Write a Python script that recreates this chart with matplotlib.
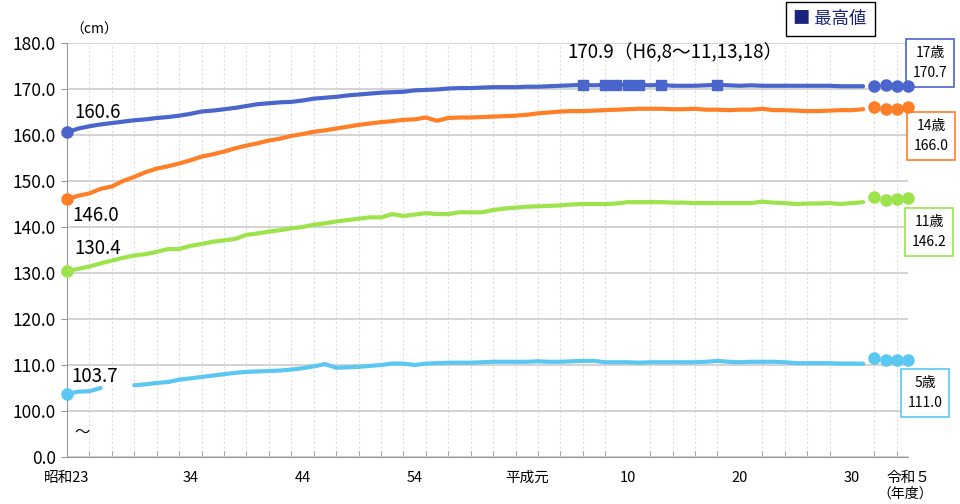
import matplotlib
matplotlib.use('Agg')
import matplotlib.pyplot as plt
import numpy as np

plt.rcParams['font.family'] = ['Noto Sans CJK JP', 'DejaVu Sans']

years = np.arange(1948, 2020)
years_r = np.arange(2020, 2024)

age17 = [160.6, 161.4, 161.9, 162.3, 162.6, 162.9, 163.2, 163.4, 163.7, 163.9,
         164.2, 164.6, 165.1, 165.3, 165.6, 165.9, 166.3, 166.7, 166.9, 167.1,
         167.2, 167.5, 167.9, 168.1, 168.3, 168.6, 168.8, 169.0, 169.2, 169.3,
         169.4, 169.7, 169.8, 169.9, 170.1, 170.2, 170.2, 170.3, 170.4, 170.4,
         170.4, 170.5, 170.5, 170.6, 170.7, 170.8, 170.9, 170.8, 170.9, 170.9,
         170.9, 170.9, 170.8, 170.9, 170.7, 170.7, 170.7, 170.8, 170.9, 170.8,
         170.7, 170.8, 170.7, 170.7, 170.7, 170.7, 170.7, 170.7, 170.7, 170.6,
         170.6, 170.6]
age14 = [146.0, 146.8, 147.3, 148.3, 148.8, 150.0, 150.9, 151.9, 152.7, 153.2,
         153.8, 154.5, 155.3, 155.8, 156.4, 157.1, 157.7, 158.2, 158.8, 159.2,
         159.8, 160.2, 160.7, 161.0, 161.4, 161.8, 162.2, 162.5, 162.8, 163.0,
         163.3, 163.4, 163.8, 163.1, 163.7, 163.8, 163.8, 163.9, 164.0, 164.1,
         164.2, 164.4, 164.7, 164.9, 165.1, 165.2, 165.2, 165.3, 165.4, 165.5,
         165.6, 165.7, 165.7, 165.7, 165.6, 165.6, 165.7, 165.5, 165.5, 165.4,
         165.5, 165.5, 165.7, 165.4, 165.4, 165.3, 165.2, 165.2, 165.3, 165.4,
         165.4, 165.6]
age11 = [130.4, 130.9, 131.4, 132.1, 132.7, 133.3, 133.8, 134.1, 134.6, 135.2,
         135.2, 135.9, 136.3, 136.8, 137.1, 137.4, 138.3, 138.6, 139.0, 139.3,
         139.7, 140.0, 140.5, 140.8, 141.2, 141.5, 141.8, 142.1, 142.1, 142.8,
         142.4, 142.7, 143.0, 142.8, 142.8, 143.2, 143.2, 143.2, 143.7, 144.0,
         144.2, 144.4, 144.5, 144.6, 144.7, 144.9, 145.0, 145.0, 145.0, 145.1,
         145.4, 145.4, 145.4, 145.4, 145.3, 145.3, 145.2, 145.2, 145.2, 145.2,
         145.2, 145.2, 145.5, 145.3, 145.2, 145.0, 145.1, 145.1, 145.2, 145.0,
         145.2, 145.4]
age5 = [103.7, 104.2, 104.3, 105.0, np.nan, np.nan, 105.6, 105.8, 106.1, 106.3,
        106.8, 107.1, 107.4, 107.7, 108.0, 108.3, 108.5, 108.6, 108.7, 108.8,
        109.0, 109.3, 109.7, 110.2, 109.4, 109.5, 109.6, 109.8, 110.0, 110.3,
        110.3, 110.0, 110.3, 110.4, 110.5, 110.5, 110.5, 110.6, 110.7, 110.7,
        110.7, 110.7, 110.8, 110.7, 110.7, 110.8, 110.9, 110.9, 110.6, 110.6,
        110.6, 110.5, 110.6, 110.6, 110.6, 110.6, 110.6, 110.7, 110.9, 110.7,
        110.6, 110.7, 110.7, 110.7, 110.6, 110.4, 110.4, 110.4, 110.4, 110.3,
        110.3, 110.3]

age17_r = [170.7, 170.8, 170.7, 170.7]
age14_r = [166.1, 165.7, 165.7, 166.0]
age11_r = [146.6, 145.9, 146.1, 146.2]
age5_r = [111.6, 111.0, 111.1, 111.0]

max_years = [1994, 1996, 1997, 1998, 1999, 2001, 2006]
max_value = 170.9

tick_years = [1948, 1959, 1969, 1979, 1989, 1998, 2008, 2018, 2023]
tick_labels = ['昭和23', '34', '44', '54', '平成元', '10', '20', '30', '令和５']

c17 = '#4a66cc'
c14 = '#ff7f27'
c11 = '#9de34b'
c5 = '#5bc8f2'

fig = plt.figure(figsize=(9.6, 5.04), dpi=100)
ax = fig.add_axes([67 / 960, 1 - 457 / 504, 841 / 960, 414 / 504])

series = [(age17, age17_r, c17), (age14, age14_r, c14),
          (age11, age11_r, c11), (age5, age5_r, c5)]
for vals, vals_r, col in series:
    ax.plot(years, vals, color=col, lw=3, solid_capstyle='round', zorder=3)
    ax.plot(years[0], vals[0], 'o', color=col, ms=8, zorder=4, clip_on=False)
    ax.plot(years_r, vals_r, 'o', color=col, ms=8, lw=0, zorder=4, clip_on=False)

ax.plot(max_years, [max_value] * len(max_years), 's', color=c17, ms=7, zorder=5)

ax.set_xlim(1948, 2023)
ax.set_ylim(90, 180)
ax.set_yticks(np.arange(90, 181, 10))
ax.set_yticklabels(['0.0'] + ['%.1f' % v for v in np.arange(100, 181, 10)], fontsize=12.5)
ax.set_xticks(tick_years)
ax.set_xticklabels(tick_labels, fontsize=10.5)
ax.set_xticks(np.arange(1948, 2023, 2), minor=True)
ax.tick_params(axis='x', which='major', length=0, pad=10)
ax.tick_params(axis='x', which='minor', direction='in', length=4, color='#999999')
ax.tick_params(axis='y', length=4, color='#999999', pad=4)

ax.grid(axis='y', color='#cccccc', lw=1.2)
ax.grid(axis='x', which='minor', color='#dddddd', lw=0.8, ls=(0, (2, 2)))
for s in ['top', 'right']:
    ax.spines[s].set_visible(False)
for s in ['left', 'bottom']:
    ax.spines[s].set_color('#999999')
ax.set_axisbelow(True)

ax.text(1948.7, 164.8, '160.6', fontsize=13.5, va='center')
ax.text(1948.5, 142.6, '146.0', fontsize=13.5, va='center')
ax.text(1948.7, 135.4, '130.4', fontsize=13.5, va='center')
ax.text(1948.4, 107.4, '103.7', fontsize=13.5, va='center')
ax.text(1992.6, 178.0, '170.9（H6,8～11,13,18）', fontsize=13.5, va='center')
ax.text(1948.7, 95.4, '～', fontsize=11, va='center')
ax.text(1950.4, 182.8, '（cm）', fontsize=10, va='center', ha='center', clip_on=False)

fig.text(905 / 960, 1 - 494 / 504, '（年度）', fontsize=10, ha='center', va='center')

# age boxes sit under the last dots
boxes = [(930, 63, '17歳\n170.7', c17), (931, 136, '14歳\n166.0', c14),
         (929, 232, '11歳\n146.2', c11), (925, 393, '5歳\n111.0', c5)]
for bx, by, txt, col in boxes:
    ax.text(bx / 960, 1 - by / 504, txt, transform=fig.transFigure, fontsize=10,
            ha='center', va='center', linespacing=1.5, zorder=3.5, clip_on=False,
            bbox=dict(boxstyle='square,pad=0.5', fc='white', ec=col, lw=1.2))

fig.text(830 / 960, 1 - 19 / 504, '■ 最高値', fontsize=12.5, ha='center', va='center',
         color='#1a237e',
         bbox=dict(boxstyle='square,pad=0.45', fc='white', ec='black', lw=1))

fig.savefig('out.png', dpi=100)
